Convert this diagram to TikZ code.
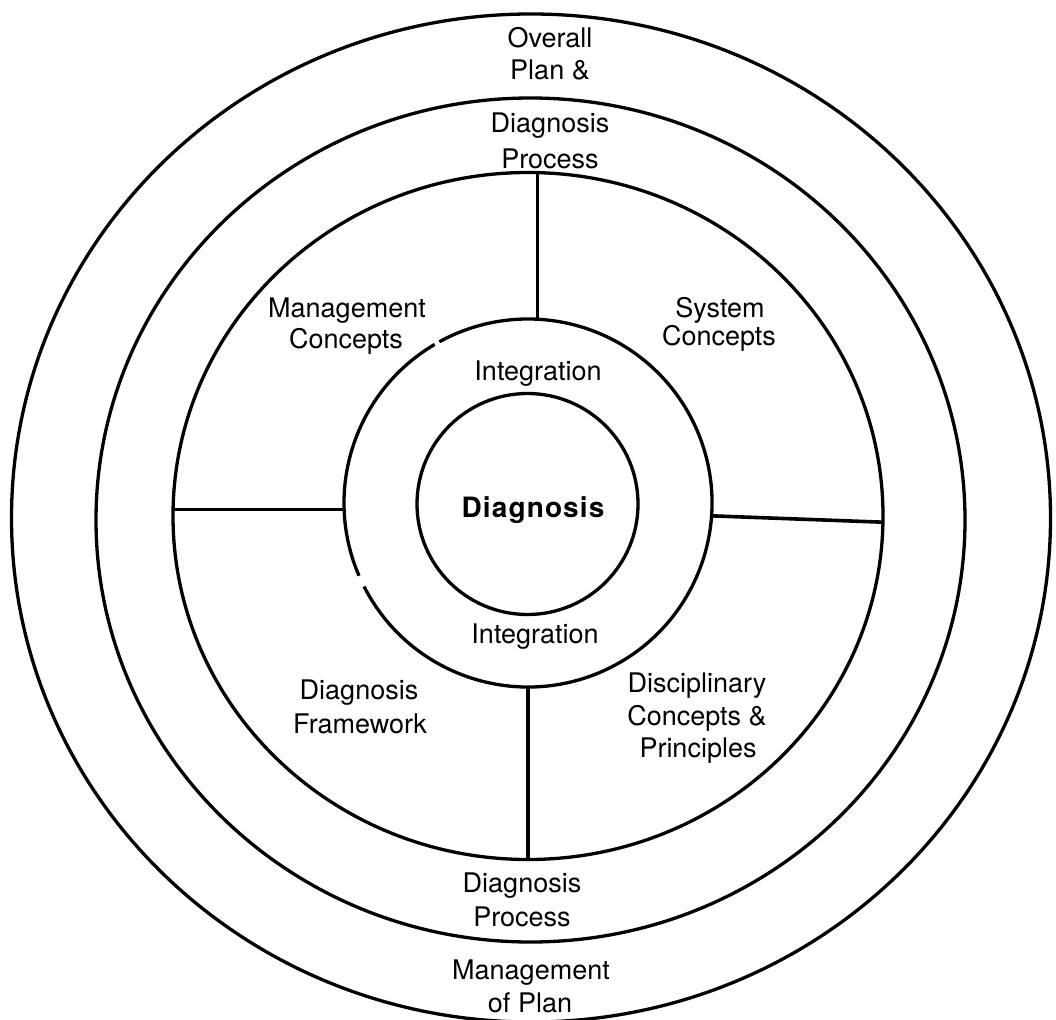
\documentclass[tikz,border=0pt]{standalone}
\usepackage{fontspec}
\setmainfont{TeX Gyre Heros}
\newfontfamily\coreface[LetterSpace=4]{TeX Gyre Heros}
\usetikzlibrary{shapes.geometric}

\begin{document}
\begin{tikzpicture}[x=1pt,y=1pt,
  ring/.style={draw, ellipse, line width=3.3pt, inner sep=0pt, outer sep=0pt},
  spoke/.style={line width=3.6pt},
  lbl/.style={inner sep=0pt, anchor=base, font=\fontsize{27}{32}\selectfont}]
\useasboundingbox (0,0) rectangle (1056,-1019);

% concentric bands
\node[ring, minimum width=1039pt, minimum height=1008pt] (plan) at (531,-518) {};
\node[ring, minimum width=869pt, minimum height=844pt] (process) at (530.5,-520) {};
\node[ring, minimum width=710pt, minimum height=687pt] (concepts) at (528,-516) {};
\node[ellipse, inner sep=0pt, outer sep=0pt, minimum size=368pt] (integ) at (528,-503) {};
\node[ring, minimum width=221pt, minimum height=221pt] (core) at (527.5,-504) {};

% integration ring, drawn in arcs (it has two small breaks)
\draw[line width=3.3pt] ([shift={(120.5:184pt)}]integ.center)
  arc[start angle=120.5, end angle=203.3, radius=184pt];
\draw[line width=3.3pt] ([shift={(207:184pt)}]integ.center)
  arc[start angle=207, end angle=478.8, radius=184pt];

% spokes dividing the concept band into four quadrants
\draw[spoke] (integ.87.5) -- (integ.87.5 |- concepts.north);
\draw[spoke] (integ.182.8) -- (integ.182.8 -| concepts.west);
\draw[spoke] (integ.-4.7) -- (concepts.-1);
\draw[spoke] (integ.270.6) -- (concepts.270);

% labels
\node[lbl] (overallA) at (550,-48) {Overall};
\node[lbl] (overallB) at (550,-80) {Plan \&};
\node[lbl] (procTopA) at (550,-133) {Diagnosis};
\node[lbl] (procTopB) at (550,-168) {Process};
\node[lbl] (mgmtA) at (347,-317) {Management};
\node[lbl] (mgmtB) at (346,-348) {Concepts};
\node[lbl] (sysA) at (720,-317) {System};
\node[lbl] (sysB) at (719,-345) {Concepts};
\node[lbl] (intTop) at (538,-380) {Integration};
\node[lbl, font=\coreface\bfseries\fontsize{28}{32}\selectfont] (diag) at (533,-517) {Diagnosis};
\node[lbl] (intBot) at (535,-643) {Integration};
\node[lbl] (frameA) at (359,-699) {Diagnosis};
\node[lbl] (frameB) at (360,-733) {Framework};
\node[lbl] (discA) at (697,-692) {Disciplinary};
\node[lbl] (discB) at (697,-725) {Concepts \&};
\node[lbl] (discC) at (698,-757) {Principles};
\node[lbl] (procBotA) at (522,-892) {Diagnosis};
\node[lbl] (procBotB) at (522,-926) {Process};
\node[lbl] (mplanA) at (531,-979) {Management};
\node[lbl] (mplanB) at (530,-1012) {of Plan};
\end{tikzpicture}
\end{document}
